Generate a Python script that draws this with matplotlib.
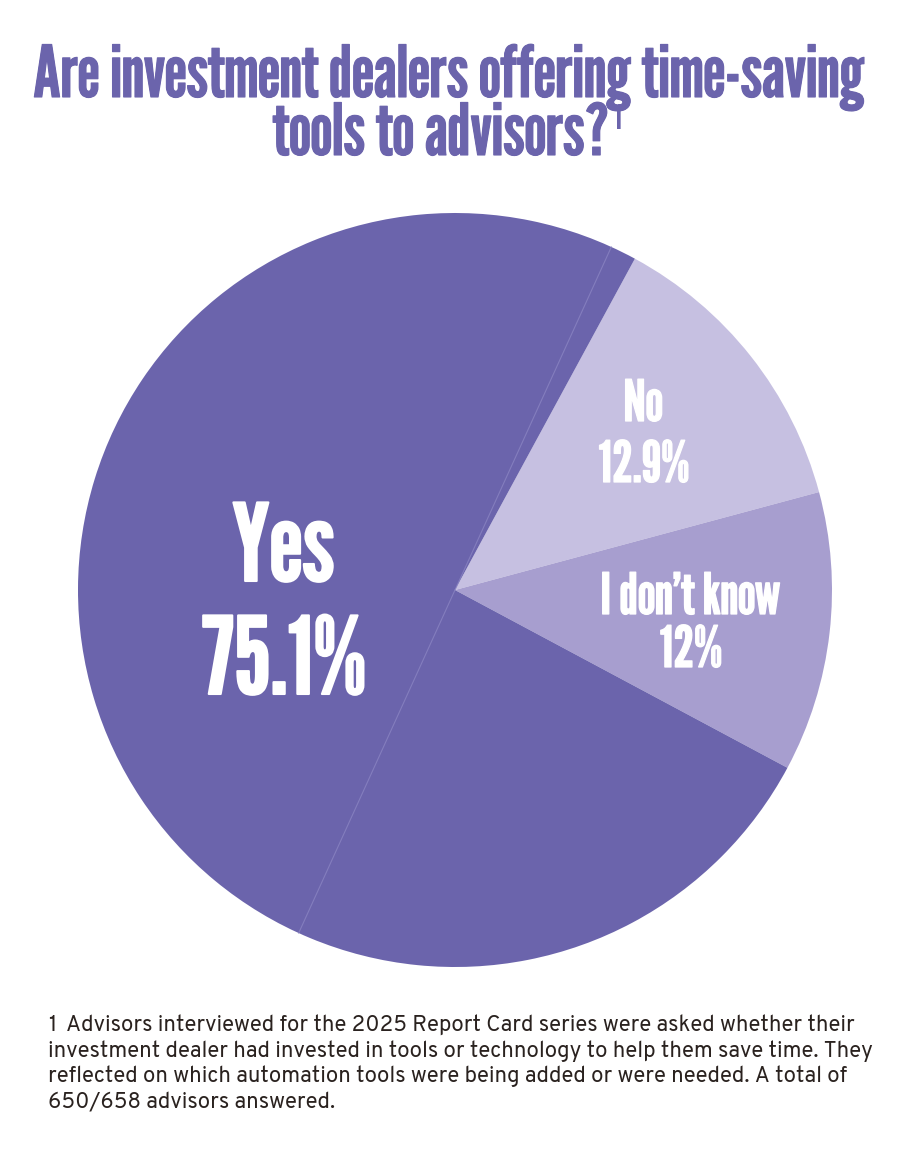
import matplotlib
matplotlib.use("Agg")
import matplotlib.pyplot as plt
import matplotlib.patheffects as pe
import numpy as np

labels = ["No", "I don\u2019t know", "Yes"]
values = [12.9, 12.0, 75.1]
pct_text = ["12.9%", "12%", "75.1%"]
colors = ["#C6C0E1", "#A79ECF", "#6B64AC"]

title1 = "Are investment dealers offering time-saving"
title2 = "tools to advisors?"
foot_lines = [
    "Advisors interviewed for the 2025 Report Card series were asked whether their",
    "investment dealer had invested in tools or technology to help them save time. They",
    "reflected on which automation tools were being added or were needed. A total of",
    "650/658 advisors answered.",
]

head_font = ["League Gothic", "Anton", "DejaVu Sans"]
foot_font = ["Overpass", "DejaVu Sans"]

purple = "#6B64AC"
fig = plt.figure(figsize=(9, 11.52), dpi=100)
fig.patch.set_facecolor("white")

# background axes for page text (pixel coords)
bg = fig.add_axes([0, 0, 1, 1])
bg.set_xlim(0, 900)
bg.set_ylim(1152, 0)
bg.axis("off")

title_fx = [pe.withStroke(linewidth=0.8, foreground=purple)]
t1 = bg.text(448, 97, title1, ha="center", va="baseline", color=purple,
             fontsize=51.5, family=head_font, path_effects=title_fx)
t2 = bg.text(441, 155, title2, ha="center", va="baseline", color=purple,
             fontsize=51.5, family=head_font, path_effects=title_fx)

# Pie
ax = fig.add_axes([(455 - 377) / 900, 1 - (590 + 377) / 1152, 754 / 900, 754 / 1152])
wedges, _ = ax.pie(values, colors=colors, startangle=90 - 28.5, counterclock=False,
                   radius=1, wedgeprops=dict(linewidth=0))
ax.set_xlim(-1, 1)
ax.set_ylim(-1, 1)
ax.set_aspect("equal")
ax.axis("off")

# faint seam line across Yes slice
ang = np.deg2rad(90 - 24.5)
ax.plot([0, np.cos(ang)], [0, np.sin(ang)], color="#8A84C2", lw=0.8, alpha=0.8)
ax.plot([0, -np.cos(ang)], [0, -np.sin(ang)], color="#8A84C2", lw=0.8, alpha=0.8)

def fx(px):
    return (px - 455) / 377
def fy(py):
    return (590 - py) / 377

big_fx = [pe.withStroke(linewidth=1.5, foreground="white")]
small_fx = [pe.withStroke(linewidth=0.9, foreground="white")]
big = dict(ha="center", va="baseline", color="white", family=head_font)
ax.text(fx(283), fy(581), labels[2], fontsize=77, path_effects=big_fx, **big)
ax.text(fx(284), fy(694), pct_text[2], fontsize=77, path_effects=big_fx, **big)
ax.text(fx(643), fy(421), labels[0], fontsize=41, path_effects=small_fx, **big)
ax.text(fx(644), fy(482), pct_text[0], fontsize=41, path_effects=small_fx, **big)
ax.text(fx(690), fy(614), labels[1], fontsize=41, path_effects=small_fx, **big)
ax.text(fx(691), fy(667), pct_text[1], fontsize=41, path_effects=small_fx, **big)

# Footnote
fc = "#2A221F"
y0 = 1025
for i, line in enumerate(foot_lines):
    x = 66 if i == 0 else 48
    bg.text(x, y0 + i * 25.7, line, ha="left", va="center",
            color=fc, fontsize=16, family=foot_font)
bg.text(48, y0, "1", ha="left", va="center", color=fc,
        fontsize=16, fontweight="bold", family=foot_font)

bg.annotate("1", xy=(1.0, 0.97), xycoords=t2, xytext=(3, 0), textcoords="offset points",
            ha="left", va="top", color=purple, fontsize=24, family=head_font,
            annotation_clip=False)

fig.savefig("out.png", dpi=100, facecolor="white")
